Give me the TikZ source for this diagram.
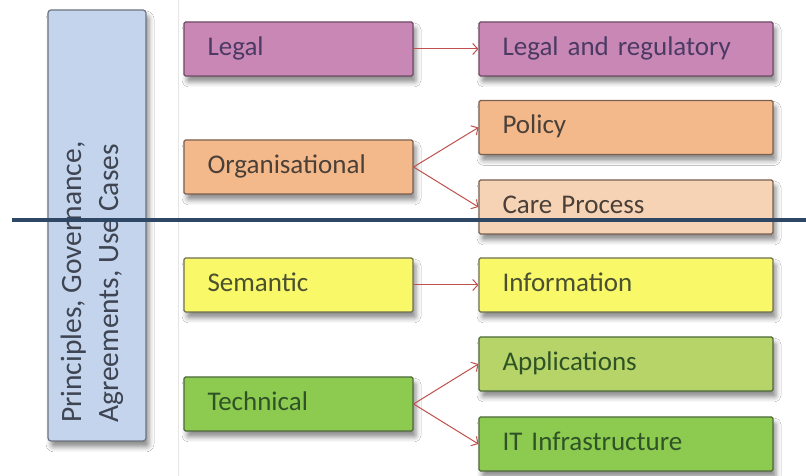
\documentclass[tikz,border=0pt]{standalone}
\usepackage{fontspec}
\setmainfont{Carlito}
\usetikzlibrary{arrows.meta,shadows.blur}
\definecolor{legalF}{HTML}{C987B5}
\definecolor{legalD}{HTML}{6E4A66}
\definecolor{legalT}{HTML}{4B3A63}
\definecolor{orgF}{HTML}{F4B98B}
\definecolor{careF}{HTML}{F7D3B6}
\definecolor{orgD}{HTML}{7A6050}
\definecolor{orgT}{HTML}{4A4038}
\definecolor{semF}{HTML}{F8F868}
\definecolor{semD}{HTML}{707050}
\definecolor{semT}{HTML}{4A5030}
\definecolor{appF}{HTML}{B6D468}
\definecolor{techF}{HTML}{8DCB50}
\definecolor{techD}{HTML}{4E6A3A}
\definecolor{techT}{HTML}{2F5326}
\definecolor{leftF}{HTML}{C3D4EC}
\definecolor{leftD}{HTML}{6D7580}
\definecolor{leftT}{HTML}{3E4452}
\definecolor{arr}{HTML}{C0504D}
\definecolor{navy}{HTML}{2E4765}
\tikzset{
  box/.style={rectangle, rounded corners=1.5pt, line width=1.2pt, minimum height=54pt,
    inner xsep=23.5pt, inner ysep=0pt, align=left, font=\fontsize{27}{32}\selectfont,
    text height=1.4em, text depth=0.1em,
    blur shadow={shadow xshift=3pt, shadow yshift=-6pt, shadow blur radius=5pt, shadow opacity=45}},
  lbox/.style={box, text width=182pt},
  rbox/.style={box, text width=247pt},
  conn/.style={draw=arr, line width=1pt, -{Straight Barb[length=5pt,width=11pt]}}
}
\begin{document}
\begin{tikzpicture}[x=1pt,y=1pt]
\useasboundingbox (0,0) rectangle (806,476);
\fill[white] (0,0) rectangle (806,476);
\draw[gray!20, line width=0.8pt] (178,476) -- (178,0);
% left box
\node[rectangle, rounded corners=3pt, draw=leftD, fill=leftF, line width=1.2pt,
  minimum width=98pt, minimum height=431pt,
  blur shadow={shadow xshift=3pt, shadow yshift=-6pt, shadow blur radius=5pt, shadow opacity=45}]
  (left) at (97,250.5) {};
\node[rotate=90, anchor=west, align=left, text=leftT, font=\fontsize{29.5}{37}\selectfont, inner sep=0pt]
  (lefttext) at (92,53) {Principles, Governance,\\Agreements, Use Cases};
% left column
\node[lbox, draw=legalD, fill=legalF, text=legalT] (legal) at (298.5,427) {Legal};
\node[lbox, draw=orgD, fill=orgF, text=orgT] (org) at (298.5,309) {Organisational};
\node[lbox, draw=semD, fill=semF, text=semT] (sem) at (298.5,191) {Semantic};
\node[lbox, draw=techD, fill=techF, text=techT] (tech) at (298.5,72) {Technical};
% right column
\node[rbox, draw=legalD, fill=legalF, text=legalT] (legreg) at (626,427) {Legal and regulatory};
\node[rbox, draw=orgD, fill=orgF, text=orgT] (policy) at (626,348.5) {Policy};
\node[rbox, draw=orgD, fill=careF, text=orgT] (care) at (626,269) {Care Process};
\node[rbox, draw=semD, fill=semF, text=semT] (info) at (626,191) {Information};
\node[rbox, draw=techD, fill=appF, text=techT] (apps) at (626,112) {Applications};
\node[rbox, draw=techD, fill=techF, text=techT] (itinf) at (626,32) {IT Infrastructure};
% connectors
\draw[conn] (legal.east) -- (legreg.west);
\draw[conn] (org.east) -- (policy.west);
\draw[conn] (org.east) -- (care.west);
\draw[conn] (sem.east) -- (info.west);
\draw[conn] (tech.east) -- (apps.west);
\draw[conn] (tech.east) -- (itinf.west);
% divider
\coordinate (dl) at (12,256);
\coordinate (dr) at (806,256);
\draw[navy, line width=4pt] (dl) -- (dr);
\end{tikzpicture}
\end{document}
